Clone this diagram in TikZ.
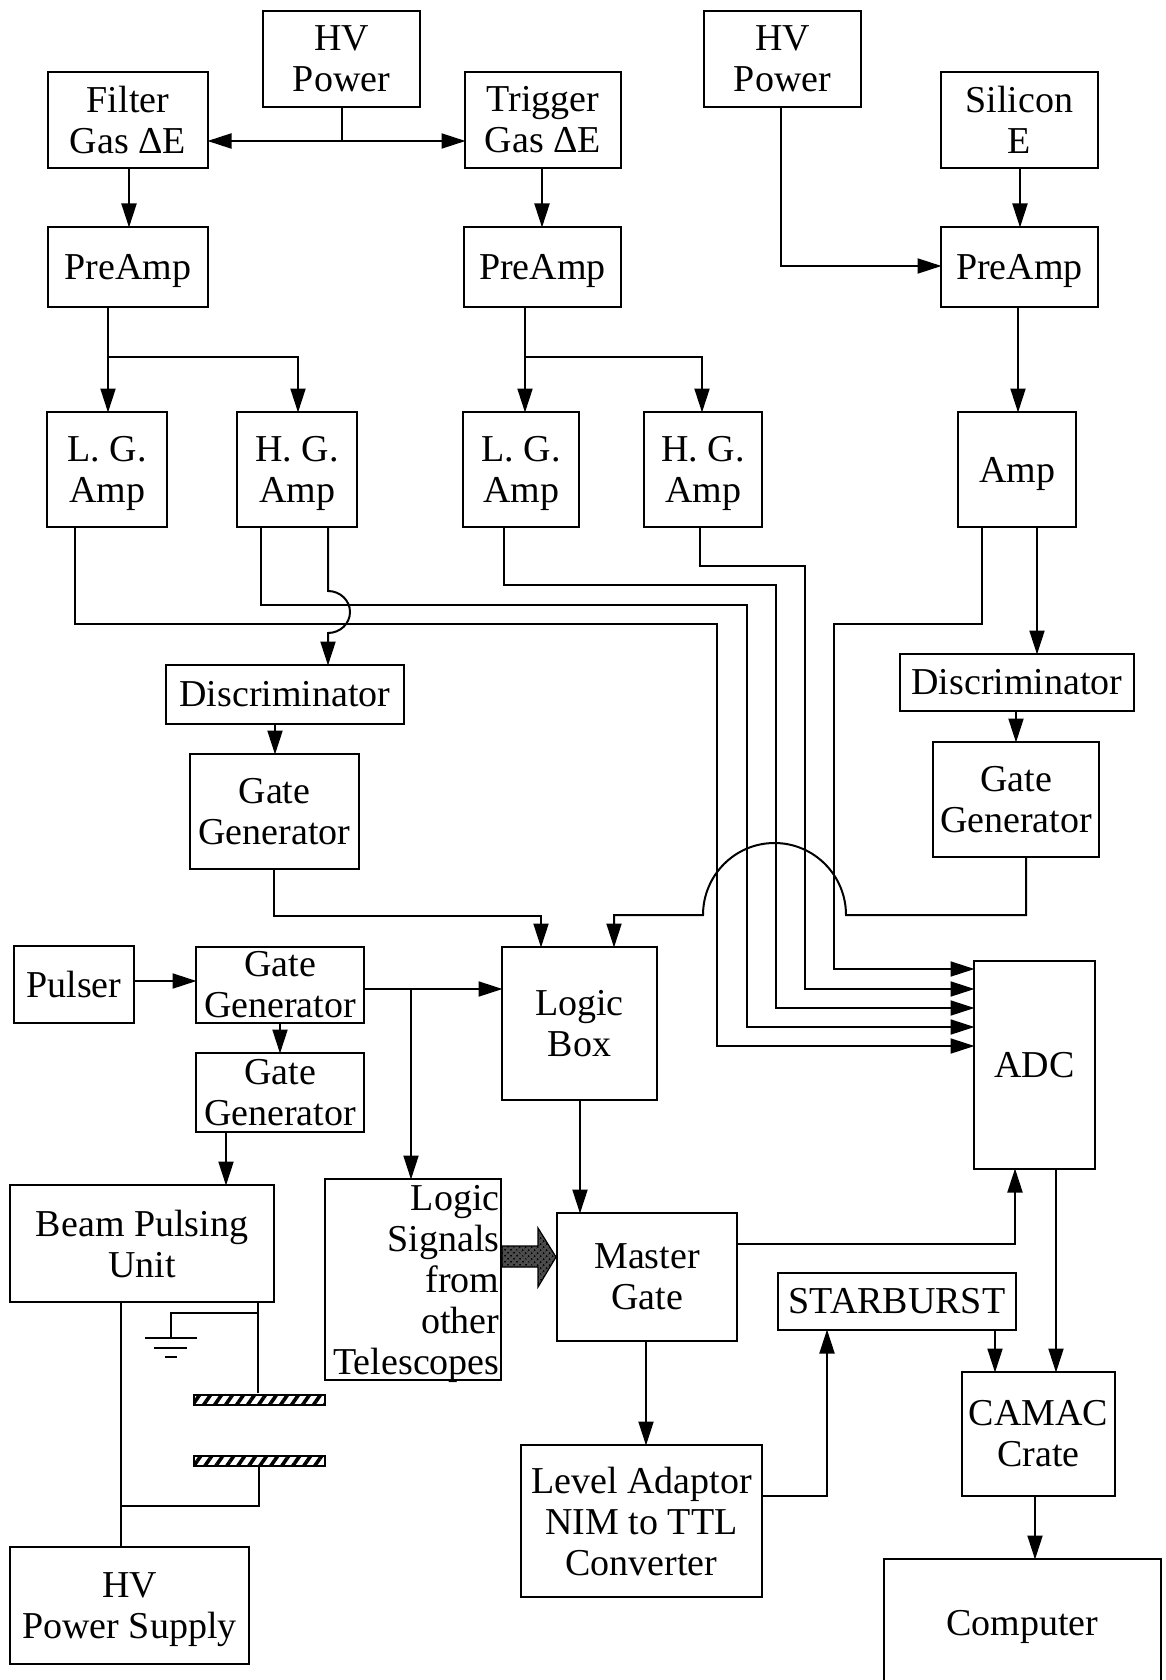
\documentclass[tikz,border=0pt]{standalone}
\usepackage{fontspec}
\setmainfont{Liberation Serif}
\usetikzlibrary{arrows.meta,patterns.meta,calc}
\newcommand{\dn}[1]{\raisebox{-4pt}[\height][\depth]{#1}}
\tikzset{
  boxnode/.style={draw=black,line width=2pt,fill=white,inner sep=0pt,align=center,font=\fontsize{38}{41}\selectfont},
  wire/.style={draw=black,line width=2pt,line join=miter},
  arr/.style={wire,shorten >=-1.5pt,-{Triangle[length=24pt,width=15pt]}},
  dbl/.style={wire,shorten >=-1.5pt,shorten <=-1.5pt,{Triangle[length=24pt,width=15pt]}-{Triangle[length=24pt,width=15pt]}},
  plate/.style={draw=black,line width=2.6pt,inner sep=0pt,pattern={Lines[angle=55,distance=9pt,line width=3.6pt]}}
}
\newcommand{\bx}[6]{\node[boxnode,minimum width={(#4-#2)*1pt},minimum height={(#5-#3)*1pt}] (#1) at ({(#2+#4)/2},{(#3+#5)/2}) {#6};}
\begin{document}
\begin{tikzpicture}[x=1pt,y=-1pt]
\useasboundingbox (0,0) rectangle (1165,1680);
\fill[white] (0,0) rectangle (1165,1680);
% top row
\bx{hva}{263}{11}{420}{107}{HV\\Power}
\bx{filter}{48}{72}{208}{168}{Filter\\Gas ΔE}
\bx{trigger}{465}{72}{621}{168}{Trigger\\Gas ΔE}
\bx{hvb}{704}{11}{861}{107}{HV\\Power}
\bx{silicon}{941}{72}{1098}{168}{Silicon\\E}
% preamps
\bx{prea}{48}{227}{208}{307}{\dn{PreAmp}}
\bx{preb}{464}{227}{621}{307}{\dn{PreAmp}}
\bx{prec}{941}{227}{1098}{307}{\dn{PreAmp}}
% amps
\bx{lga}{47}{412}{167}{527}{\dn{L. G.}\\\dn{Amp}}
\bx{hga}{237}{412}{357}{527}{\dn{H. G.}\\\dn{Amp}}
\bx{lgb}{463}{412}{579}{527}{\dn{L. G.}\\\dn{Amp}}
\bx{hgb}{644}{412}{762}{527}{\dn{H. G.}\\\dn{Amp}}
\bx{amp}{958}{412}{1076}{527}{\dn{Amp}}
% discriminators and gates
\bx{disca}{166}{665}{404}{724}{Discriminator}
\bx{gatea}{190}{754}{359}{869}{Gate\\Generator}
\bx{discb}{900}{654}{1134}{711}{Discriminator}
\bx{gateb}{933}{742}{1099}{857}{Gate\\Generator}
% middle
\bx{pulser}{14}{946}{134}{1023}{Pulser}
\bx{gatec}{196}{947}{364}{1023}{Gate\\Generator}
\bx{gated}{196}{1053}{364}{1132}{Gate\\Generator}
\bx{logic}{502}{947}{657}{1100}{Logic\\Box}
\bx{adc}{974}{961}{1095}{1169}{ADC}
% bottom
\bx{beam}{10}{1185}{274}{1302}{Beam Pulsing\\Unit}
\node[boxnode,minimum width=176pt,minimum height=201pt,align=right,text width=173pt] (signals) at (413,1279.5) {\dn{Logic}\\\dn{Signals}\\\dn{from}\\\dn{other}\hspace{8pt}\\\dn{Telescopes}};
\bx{master}{557}{1213}{737}{1341}{Master\\Gate}
\bx{star}{778}{1273}{1016}{1330}{STARBURST}
\bx{camac}{962}{1372}{1115}{1496}{CAMAC\\Crate}
\bx{level}{521}{1445}{762}{1597}{Level Adaptor\\NIM to TTL\\Converter}
\bx{hvc}{10}{1547}{249}{1664}{\dn{HV}\\\dn{Power Supply}}
\bx{computer}{884}{1559}{1161}{1687}{\dn{Computer}}
\node[plate,minimum width=131pt,minimum height=10pt] (platea) at (259.5,1400) {};
\node[plate,minimum width=131pt,minimum height=10pt] (plateb) at (259.5,1461) {};
% top connectors
\coordinate (hvtee) at (342,141);
\draw[wire] (hva.south -| hvtee) -- (hvtee);
\draw[dbl] (filter.east |- hvtee) -- (trigger.west |- hvtee);
\draw[arr] (filter.south -| 129,0) -- (prea.north -| 129,0);
\draw[arr] (trigger.south -| 542,0) -- (preb.north -| 542,0);
\draw[arr] (silicon.south -| 1020,0) -- (prec.north -| 1020,0);
\draw[arr] (hvb.south -| 781,0) -- (781,266) -- (prec.west |- 0,266);
% preamp to amps
\draw[arr] (prea.south -| 108,0) -- (lga.north -| 108,0);
\draw[arr] (108,357) -- (298,357) -- (hga.north -| 298,0);
\draw[arr] (preb.south -| 525,0) -- (lgb.north -| 525,0);
\draw[arr] (525,357) -- (702,357) -- (hgb.north -| 702,0);
\draw[arr] (prec.south -| 1018,0) -- (amp.north -| 1018,0);
% amps to ADC
\draw[arr] (hgb.south -| 700,0) -- (700,566) -- (805,566) -- (805,989) -- (adc.west |- 0,989);
\draw[arr] (lgb.south -| 504,0) -- (504,585) -- (776,585) -- (776,1008) -- (adc.west |- 0,1008);
\draw[arr] (hga.south -| 261,0) -- (261,605) -- (747,605) -- (747,1027) -- (adc.west |- 0,1027);
\draw[arr] (lga.south -| 75,0) -- (75,624) -- (717,624) -- (717,1046) -- (adc.west |- 0,1046);
\draw[arr] (amp.south -| 982,0) -- (982,624) -- (834,624) -- (834,969) -- (adc.west |- 0,969);
% discriminators
\draw[arr] (hga.south -| 328,0) -- (328,591) arc[start angle=90,end angle=-90,x radius=22pt,y radius=21pt] -- (disca.north -| 328,0);
\draw[arr] (disca.south -| 275,0) -- (gatea.north -| 275,0);
\draw[arr] (amp.south -| 1037,0) -- (discb.north -| 1037,0);
\draw[arr] (discb.south -| 1016,0) -- (gateb.north -| 1016,0);
% gates to logic
\draw[arr] (gatea.south -| 274,0) -- (274,916) -- (541,916) -- (logic.north -| 541,0);
\draw[arr] (gateb.south -| 1026,0) -- (1026,915) -- (846,915) arc[start angle=0,end angle=180,x radius=71.5pt,y radius=72pt] -- (614,915) -- (logic.north -| 614,0);
% pulser chain
\draw[arr] (pulser.east |- 0,981) -- (gatec.west |- 0,981);
\draw[arr] (gatec.east |- 0,989) -- (logic.west |- 0,989);
\draw[arr] (411,989) -- (signals.north -| 411,0);
\draw[arr] (gatec.south -| 280,0) -- (gated.north -| 280,0);
\draw[arr] (gated.south -| 226,0) -- (beam.north -| 226,0);
% logic, master
\draw[arr] (logic.south -| 580,0) -- (master.north -| 580,0);
\draw[arr] (master.east |- 0,1244) -- (1015,1244) -- (adc.south -| 1015,0);
\draw[arr] (master.south -| 646,0) -- (level.north -| 646,0);
\draw[arr] (level.east |- 0,1496) -- (827,1496) -- (star.south -| 827,0);
\draw[arr] (star.south -| 995,0) -- (camac.north -| 995,0);
\draw[arr] (adc.south -| 1056,0) -- (camac.north -| 1056,0);
\draw[arr] (camac.south -| 1035,0) -- (computer.north -| 1035,0);
% thick arrow
\path[draw=black,line width=1.2pt,fill=black!70,postaction={pattern={Dots[radius=1.1pt,distance=4pt,angle=45]},pattern color=black}]
  (signals.east |- 0,1246) -- (538,1246) -- (538,1228) -- (master.west |- 0,1257) -- (538,1287) -- (538,1267) -- (signals.east |- 0,1267) -- cycle;
% beam pulsing wiring
\draw[wire] (beam.south -| 258,0) -- (platea.north -| 258,0);
\draw[wire] (beam.south -| 121,0) -- (hvc.north -| 121,0);
\draw[wire] (258,1313) -- (171,1313) -- (171,1338);
\draw[wire] (plateb.south -| 259,0) -- (259,1506) -- (121,1506);
\draw[wire] (145,1338) -- (197,1338);
\draw[wire] (154,1348) -- (187,1348);
\draw[wire] (165,1357) -- (177,1357);
\end{tikzpicture}
\end{document}
